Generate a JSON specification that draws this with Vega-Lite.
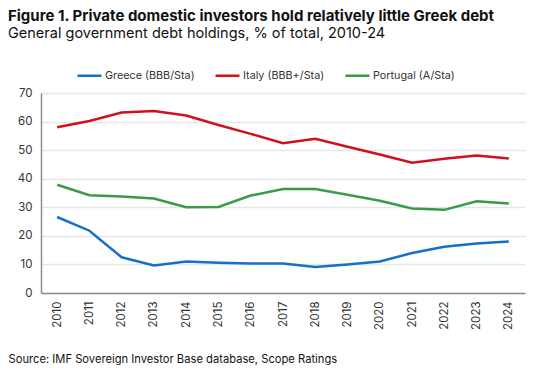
{
  "$schema": "https://vega.github.io/schema/vega-lite/v6.json",
  "autosize": "none",
  "width": 484,
  "height": 200,
  "padding": {"left": 41, "top": 93, "right": 25, "bottom": 87},
  "background": "white",
  "config": {
    "font": "Inter",
    "view": {"stroke": null},
    "axis": {"labelFont": "Inter", "titleFont": "Inter"},
    "legend": {"labelFont": "Inter"}
  },
  "title": {
    "text": "Figure 1. Private domestic investors hold relatively little Greek debt",
    "subtitle": "General government debt holdings, % of total, 2010-24",
    "anchor": "start",
    "frame": "group",
    "dx": -33,
    "fontSize": 15,
    "fontWeight": "bold",
    "color": "#111111",
    "subtitleFontSize": 14.5,
    "subtitleColor": "#111111",
    "subtitlePadding": 3,
    "offset": 22
  },
  "data": {
    "values": [
      {"year": "2010", "country": "Greece (BBB/Sta)", "value": 26.6},
      {"year": "2011", "country": "Greece (BBB/Sta)", "value": 21.8},
      {"year": "2012", "country": "Greece (BBB/Sta)", "value": 12.5},
      {"year": "2013", "country": "Greece (BBB/Sta)", "value": 9.6},
      {"year": "2014", "country": "Greece (BBB/Sta)", "value": 11.0},
      {"year": "2015", "country": "Greece (BBB/Sta)", "value": 10.6},
      {"year": "2016", "country": "Greece (BBB/Sta)", "value": 10.3},
      {"year": "2017", "country": "Greece (BBB/Sta)", "value": 10.3},
      {"year": "2018", "country": "Greece (BBB/Sta)", "value": 9.1},
      {"year": "2019", "country": "Greece (BBB/Sta)", "value": 10.0},
      {"year": "2020", "country": "Greece (BBB/Sta)", "value": 11.0},
      {"year": "2021", "country": "Greece (BBB/Sta)", "value": 14.0},
      {"year": "2022", "country": "Greece (BBB/Sta)", "value": 16.2},
      {"year": "2023", "country": "Greece (BBB/Sta)", "value": 17.3},
      {"year": "2024", "country": "Greece (BBB/Sta)", "value": 18.0},
      {"year": "2010", "country": "Italy (BBB+/Sta)", "value": 58.0},
      {"year": "2011", "country": "Italy (BBB+/Sta)", "value": 60.2},
      {"year": "2012", "country": "Italy (BBB+/Sta)", "value": 63.2},
      {"year": "2013", "country": "Italy (BBB+/Sta)", "value": 63.7},
      {"year": "2014", "country": "Italy (BBB+/Sta)", "value": 62.1},
      {"year": "2015", "country": "Italy (BBB+/Sta)", "value": 58.8},
      {"year": "2016", "country": "Italy (BBB+/Sta)", "value": 55.7},
      {"year": "2017", "country": "Italy (BBB+/Sta)", "value": 52.4},
      {"year": "2018", "country": "Italy (BBB+/Sta)", "value": 54.0},
      {"year": "2019", "country": "Italy (BBB+/Sta)", "value": 51.2},
      {"year": "2020", "country": "Italy (BBB+/Sta)", "value": 48.5},
      {"year": "2021", "country": "Italy (BBB+/Sta)", "value": 45.6},
      {"year": "2022", "country": "Italy (BBB+/Sta)", "value": 47.0},
      {"year": "2023", "country": "Italy (BBB+/Sta)", "value": 48.1},
      {"year": "2024", "country": "Italy (BBB+/Sta)", "value": 47.1},
      {"year": "2010", "country": "Portugal (A/Sta)", "value": 37.9},
      {"year": "2011", "country": "Portugal (A/Sta)", "value": 34.2},
      {"year": "2012", "country": "Portugal (A/Sta)", "value": 33.8},
      {"year": "2013", "country": "Portugal (A/Sta)", "value": 33.1},
      {"year": "2014", "country": "Portugal (A/Sta)", "value": 30.0},
      {"year": "2015", "country": "Portugal (A/Sta)", "value": 30.1},
      {"year": "2016", "country": "Portugal (A/Sta)", "value": 34.1},
      {"year": "2017", "country": "Portugal (A/Sta)", "value": 36.4},
      {"year": "2018", "country": "Portugal (A/Sta)", "value": 36.4},
      {"year": "2019", "country": "Portugal (A/Sta)", "value": 34.4},
      {"year": "2020", "country": "Portugal (A/Sta)", "value": 32.3},
      {"year": "2021", "country": "Portugal (A/Sta)", "value": 29.6},
      {"year": "2022", "country": "Portugal (A/Sta)", "value": 29.1},
      {"year": "2023", "country": "Portugal (A/Sta)", "value": 32.1},
      {"year": "2024", "country": "Portugal (A/Sta)", "value": 31.3}
    ]
  },
  "mark": {"type": "line", "strokeWidth": 2.5},
  "encoding": {
    "x": {
      "field": "year",
      "type": "ordinal",
      "scale": {"type": "point", "padding": 0.5},
      "axis": {
        "title": "Source: IMF Sovereign Investor Base database, Scope Ratings",
        "titleAnchor": "start",
        "titleAlign": "left",
        "titleX": -33,
        "titleY": 60,
        "titleFontSize": 11.2,
        "titleFontWeight": "normal",
        "titleColor": "#111111",
        "labelAngle": -90,
        "labelFontSize": 11.5,
        "labelColor": "#333333",
        "labelPadding": 8,
        "ticks": false,
        "domainColor": "#8c8c8c",
        "domainWidth": 1.5,
        "grid": false
      }
    },
    "y": {
      "field": "value",
      "type": "quantitative",
      "scale": {"domain": [0, 70]},
      "axis": {
        "title": null,
        "values": [0, 10, 20, 30, 40, 50, 60, 70],
        "labelFontSize": 11.5,
        "labelColor": "#333333",
        "labelPadding": 9,
        "ticks": false,
        "domainColor": "#8c8c8c",
        "domainWidth": 1.5,
        "grid": true,
        "gridColor": "#e6e6e6",
        "gridWidth": 1.5
      }
    },
    "color": {
      "field": "country",
      "type": "nominal",
      "scale": {
        "domain": ["Greece (BBB/Sta)", "Italy (BBB+/Sta)", "Portugal (A/Sta)"],
        "range": ["#1570c8", "#d0101e", "#3a9a4a"]
      },
      "legend": {
        "title": null,
        "orient": "none",
        "legendX": 35,
        "legendY": -31,
        "direction": "horizontal",
        "symbolType": "stroke",
        "symbolSize": 576,
        "symbolStrokeWidth": 2.5,
        "labelFontSize": 10.8,
        "labelColor": "#333333",
        "labelOffset": 2,
        "columnPadding": 15
      }
    }
  }
}
